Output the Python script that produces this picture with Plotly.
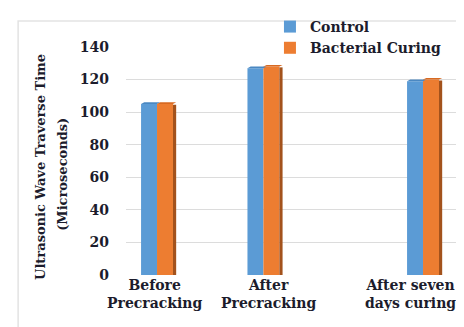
import plotly.graph_objects as go

categories = ["Before<br>Precracking", "After<br>Precracking", "After seven<br>days curing"]
control = [105, 127, 119]
bacterial = [105, 128, 120]
y_ticks = [0, 20, 40, 60, 80, 100, 120, 140]

# layout: category slot positions on the x axis (uneven spacing in the original)
slot = [0, 2, 5]
label_shift = [-2, 6, -13]
bw = 0.3
side = 0.06

FAM = "DejaVu Serif, Liberation Serif, serif"
INK = "#1c1c2c"

fig = go.Figure()
fig.add_trace(go.Bar(x=slot, y=control, name="Control", width=bw, offset=-bw,
                     marker=dict(color="#5B9BD5", line=dict(width=0))))
fig.add_trace(go.Bar(x=slot, y=bacterial, name="Bacterial Curing", width=bw, offset=0,
                     marker=dict(color="#ED7D31", line=dict(width=0))))

shapes = []
for xs, yc, yb in zip(slot, control, bacterial):
    shapes.append(dict(type="rect", xref="x", yref="y", x0=xs + bw, x1=xs + bw + side,
                       y0=0, y1=yb - 0.5, fillcolor="#A3521C", line=dict(width=0), layer="above"))
    shapes.append(dict(type="path", xref="x", yref="y",
                       path=f"M {xs-bw},{yc} L {xs-bw+side},{yc+1} L {xs+side},{yc+1} L {xs},{yc} Z",
                       fillcolor="#4A88C2", line=dict(width=0), layer="above"))
    shapes.append(dict(type="path", xref="x", yref="y",
                       path=f"M {xs},{yb} L {xs+side},{yb+1} L {xs+bw+side},{yb+1} L {xs+bw},{yb} Z",
                       fillcolor="#D86A22", line=dict(width=0), layer="above"))
shapes.append(dict(type="rect", xref="paper", yref="paper", x0=-0.323, x1=1.06, y0=-0.28, y1=1.114,
                   line=dict(color="#e3e3e3", width=1.5)))

annotations = [
    dict(text="Ultrasonic Wave Traverse Time", xref="paper", yref="paper", x=-0.2545, y=0.474,
         textangle=-90, showarrow=False, xanchor="center", yanchor="middle",
         font=dict(family=FAM, size=13, color=INK, weight="bold")),
    dict(text="(Microseconds)", xref="paper", yref="paper", x=-0.189, y=0.443,
         textangle=-90, showarrow=False, xanchor="center", yanchor="middle",
         font=dict(family=FAM, size=13, color=INK, weight="bold")),
]
for xs, lab, sh in zip(slot, categories, label_shift):
    annotations.append(dict(text=lab, xref="x", yref="paper", x=xs, y=0, yanchor="top",
                            xanchor="center", xshift=sh, yshift=0, showarrow=False,
                            font=dict(family=FAM, size=14, color=INK, weight="bold")))

fig.update_layout(
    width=464, height=327,
    margin=dict(l=118, r=12, t=39, b=60, autoexpand=False),
    paper_bgcolor="white", plot_bgcolor="white",
    barmode="overlay",
    showlegend=True,
    legend=dict(x=0.431, y=1.158, xanchor="left", yanchor="top", bgcolor="rgba(0,0,0,0)",
                font=dict(family=FAM, size=14, color=INK, weight="bold"),
                tracegroupgap=0),
    shapes=shapes,
    annotations=annotations,
    xaxis=dict(range=[-0.583, 5.695], tickmode="array", tickvals=slot, showticklabels=False,
               showgrid=False, zeroline=False, showline=False, ticks="", automargin=False),
    yaxis=dict(range=[0, 140], tickmode="array", tickvals=y_ticks, automargin=False,
               showgrid=True, gridcolor="#dcdcdc", gridwidth=1, zeroline=False,
               showline=False, ticks="", ticklabelstandoff=16,
               tickfont=dict(family=FAM, size=14, color=INK, weight="bold")),
)

fig.write_html("out.html")
